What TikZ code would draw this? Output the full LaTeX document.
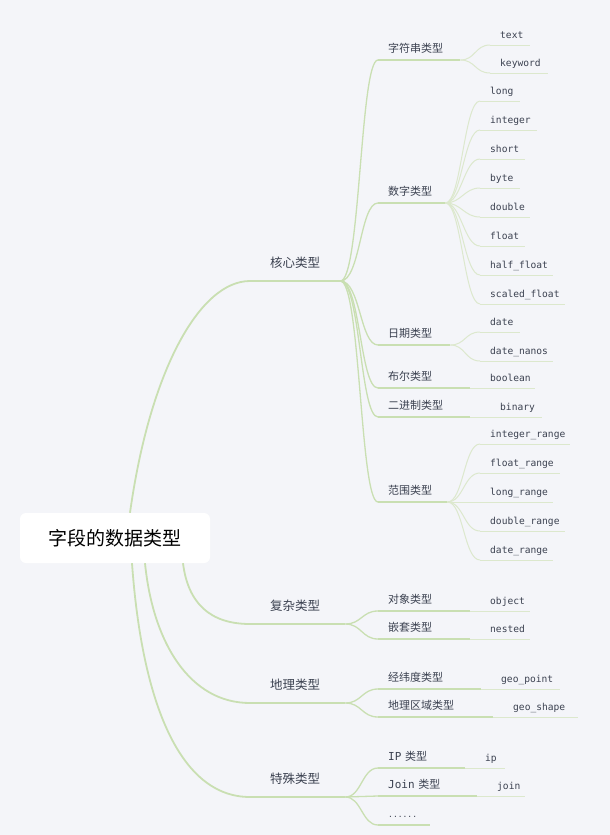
\documentclass[tikz,border=0pt]{standalone}
\usepackage{fontspec}
\newfontfamily\cjk{Noto Sans CJK SC}
\newfontfamily\mono{DejaVu Sans Mono}
\definecolor{bg}{HTML}{F4F5F9}
\definecolor{brline}{HTML}{C9DFB2}
\definecolor{leafline}{HTML}{DCE8CD}
\definecolor{ink}{HTML}{3B4150}
\begin{document}
\begin{tikzpicture}[x=1pt,y=-1pt]
	\tikzstyle{br1}=[draw=brline,line width=1.8pt]
	\tikzstyle{br2}=[draw=brline,line width=1.3pt]
	\tikzstyle{br3}=[draw=leafline,line width=1pt]
	\tikzstyle{item}=[anchor=south west,inner xsep=0pt,align=left,text=ink,text depth=2pt]
	\tikzstyle{main}=[item,inner ysep=11pt,text height=10pt,font=\cjk\fontsize{12.5}{14}\selectfont,
		execute at begin node={\noindent\hspace*{20pt}}]
	\tikzstyle{sub}=[item,inner ysep=5pt,text height=9pt,font=\cjk\fontsize{11}{13}\selectfont,
		execute at begin node={\noindent\hspace*{10pt}}]
	\tikzstyle{leaf}=[item,inner ysep=4pt,text height=7pt,font=\mono\fontsize{9.6}{11}\selectfont,
		execute at begin node={\noindent\hspace*{10pt}}]
	\fill[bg] (0,0) rectangle (610,835);

	\node[fill=white,rounded corners=6pt,minimum width=190pt,minimum height=50pt,
		font=\cjk\fontsize{19}{22}\selectfont] (root) at (115,538) {字段的数据类型};

	\node[main,text width=90pt] (core) at (250,281) {核心类型};
	\node[main,text width=95pt] (complex) at (250,624) {复杂类型};
	\node[main,text width=95pt] (geo) at (250,703) {地理类型};
	\node[main,text width=95pt] (special) at (250,797) {特殊类型};
	\draw[br1] ([xshift=15]root.north) .. controls +(20,-143) and +(-50,0) .. (core.south west);
	\draw[br1] ([xshift=68]root.south) .. controls +(5,40) and +(-40,0) .. (complex.south west);
	\draw[br1] ([xshift=30]root.south) .. controls +(8,80) and +(-60,0) .. (geo.south west);
	\draw[br1] ([xshift=17]root.south) .. controls +(10,140) and +(-70,0) .. (special.south west);

	\node[sub,text width=82pt] (str) at (378,60) {字符串类型};
	\node[sub,text width=67pt] (num) at (378,203) {数字类型};
	\node[sub,text width=72pt] (date) at (378,345) {日期类型};
	\node[sub,text width=92pt] (bool) at (378,388) {布尔类型};
	\node[sub,text width=92pt] (bin) at (378,417) {二进制类型};
	\node[sub,text width=69pt] (range) at (378,502) {范围类型};
	\foreach \n in {str,num,date,bool,bin,range}
		\draw[br2] (core.south east) .. controls +(20,0) and +(-18,0) .. (\n.south west);

	\node[leaf,text width=40pt] (txt) at (490,45) {text};
	\node[leaf,text width=58pt] (keyword) at (490,73) {keyword};
	\foreach \n in {txt,keyword}
		\draw[br3] (str.south east) .. controls +(15,0) and +(-15,0) .. (\n.south west);

	\foreach \n/\t/\w [count=\i] in {long/long/40pt,integer/integer/57pt,short/short/45pt,byte/byte/40pt,
		double/double/50pt,float/float/45pt,hfloat/half\_float/73pt,sfloat/scaled\_float/85pt}{
		\node[leaf,text width=\w] (\n) at (480,72+29*\i) {\t};
		\draw[br3] (num.south east) .. controls +(16,0) and +(-16,0) .. (\n.south west);
	}

	\node[leaf,text width=40pt] (dd) at (480,332) {date};
	\node[leaf,text width=73pt] (nanos) at (480,361) {date\_nanos};
	\foreach \n in {dd,nanos}
		\draw[br3] (date.south east) .. controls +(15,0) and +(-15,0) .. (\n.south west);

	\node[leaf,text width=55pt] (boolean) at (480,388) {boolean};
	\draw[br3] (bool.south east) -- (boolean.south west);
	\node[leaf,text width=52pt] (binary) at (490,417) {binary};
	\draw[br3] (bin.south east) -- (binary.south west);

	\foreach \n/\t/\w [count=\i] in {irange/integer\_range/90pt,frange/float\_range/80pt,lrange/long\_range/73pt,
		drange/double\_range/85pt,dtrange/date\_range/73pt}{
		\node[leaf,text width=\w] (\n) at (480,415+29*\i) {\t};
		\draw[br3] (range.south east) .. controls +(16,0) and +(-16,0) .. (\n.south west);
	}

	\node[sub,text width=92pt] (obj) at (378,611) {对象类型};
	\node[sub,text width=92pt] (nest) at (378,639) {嵌套类型};
	\node[leaf,text width=50pt] (object) at (480,611) {object};
	\node[leaf,text width=50pt] (nested) at (480,639) {nested};
	\foreach \n in {obj,nest}
		\draw[br2] (complex.south east) .. controls +(16,0) and +(-16,0) .. (\n.south west);
	\draw[br3] (obj.south east) -- (object.south west);
	\draw[br3] (nest.south east) -- (nested.south west);

	\node[sub,text width=103pt] (gp) at (378,689) {经纬度类型};
	\node[sub,text width=115pt] (gs) at (378,717) {地理区域类型};
	\node[leaf,text width=69pt] (geopoint) at (491,689) {geo\_point};
	\node[leaf,text width=75pt] (geoshape) at (503,717) {geo\_shape};
	\foreach \n in {gp,gs}
		\draw[br2] (geo.south east) .. controls +(16,0) and +(-16,0) .. (\n.south west);
	\draw[br3] (gp.south east) -- (geopoint.south west);
	\draw[br3] (gs.south east) -- (geoshape.south west);

	\node[sub,text width=87pt] (ipt) at (378,768) {{\mono IP} 类型};
	\node[sub,text width=99pt] (joint) at (378,796) {{\mono Join} 类型};
	\node[sub,text width=52pt] (more) at (378,825) {{\mono\fontsize{8}{10}\selectfont ......}};
	\node[leaf,text width=30pt] (ip) at (475,768) {ip};
	\node[leaf,text width=38pt] (join) at (487,796) {join};
	\foreach \n in {ipt,joint,more}
		\draw[br2] (special.south east) .. controls +(16,0) and +(-16,0) .. (\n.south west);
	\draw[br3] (ipt.south east) -- (ip.south west);
	\draw[br3] (joint.south east) -- (join.south west);

	\foreach \n in {core,complex,geo,special}
		\draw[br1] (\n.south west) -- (\n.south east);
	\foreach \n in {str,num,date,bool,bin,range,obj,nest,gp,gs,ipt,joint,more}
		\draw[br2] (\n.south west) -- (\n.south east);
	\foreach \n in {txt,keyword,long,integer,short,byte,double,float,hfloat,sfloat,dd,nanos,boolean,binary,
		irange,frange,lrange,drange,dtrange,object,nested,geopoint,geoshape,ip,join}
		\draw[br3] (\n.south west) -- (\n.south east);
\end{tikzpicture}
\end{document}
